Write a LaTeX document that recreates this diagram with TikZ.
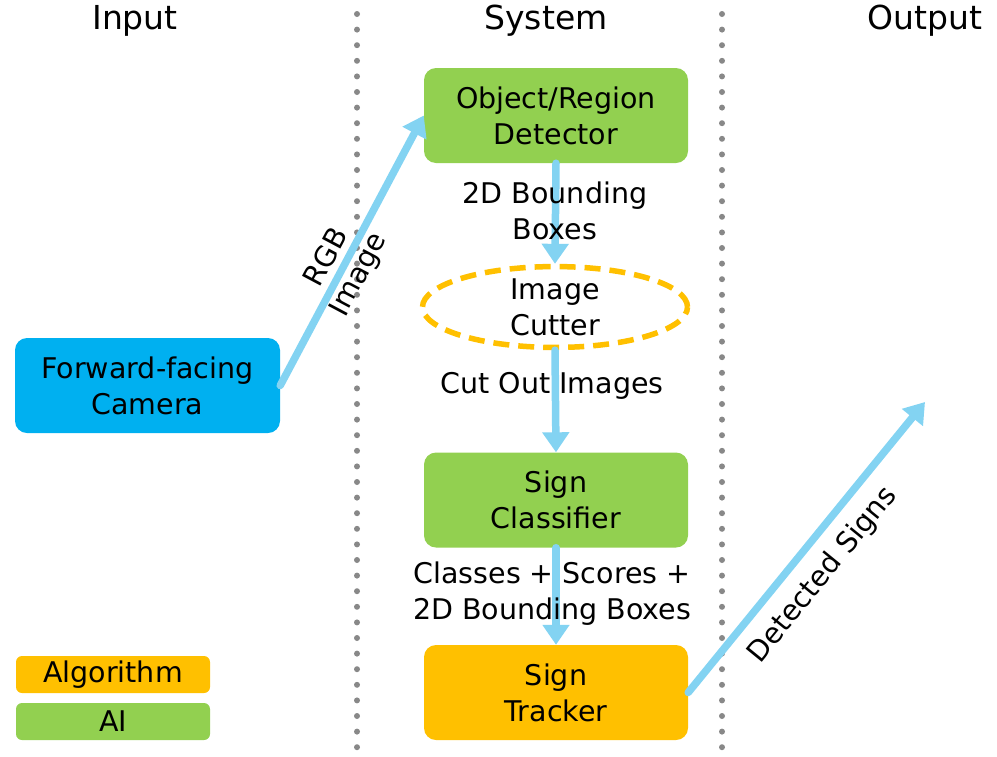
\documentclass[tikz,border=0pt]{standalone}
\usepackage{fontspec}
\setmainfont{DejaVu Sans}
\usetikzlibrary{arrows.meta,shapes.geometric}
\definecolor{aigreen}{HTML}{92D050}
\definecolor{algorange}{HTML}{FFC000}
\definecolor{cambblue}{HTML}{00B0F0}
\definecolor{flowblue}{RGB}{131,211,242}
\definecolor{dotgray}{RGB}{136,136,136}
\begin{document}
\begin{tikzpicture}[x=1pt,y=-1pt,
  font=\fontsize{28.5}{36}\selectfont,
  box/.style={rounded corners=12pt, inner sep=0pt, minimum width=264pt, minimum height=95pt, align=center},
  legendbox/.style={rounded corners=6pt, inner sep=0pt, minimum width=194pt, minimum height=37pt},
  flow/.style={draw=flowblue, line width=7.5pt, line cap=round, -{Triangle[length=20pt,width=26pt]}},
  sep/.style={draw=dotgray, line width=6pt, line cap=round, dash pattern=on 0pt off 15.6pt},
  title/.style={font=\fontsize{33}{38}\selectfont},
  lbl/.style={align=center, inner sep=1pt}]
\useasboundingbox (0,0) rectangle (997,756);
% separators
\coordinate (s1t) at (357,14); \coordinate (s1b) at (357,760);
\coordinate (s2t) at (722,14); \coordinate (s2b) at (722,760);
\draw[sep] (s1t) -- (s1b);
\draw[sep] (s2t) -- (s2b);
% titles
\node[title] (tin) at (135,21) {Input};
\node[title] (tsys) at (546,21) {System};
\node[title] (tout) at (925,21) {Output};
% nodes
\node[box, fill=aigreen] (det) at (556,115.5) {Object/Region\\Detector};
\node[ellipse, draw=algorange, line width=5.5pt, dash pattern=on 16pt off 9pt,
      minimum width=265pt, minimum height=70pt, inner sep=0pt, align=center] (cut) at (555,307) {Image\\Cutter};
\node[box, fill=aigreen] (cls) at (556,500) {Sign\\Classifier};
\node[box, fill=algorange] (trk) at (556,692.5) {Sign\\Tracker};
\node[box, fill=cambblue, minimum width=265pt] (cam) at (147.5,385.5) {Forward-facing\\Camera};
\coordinate (out) at (925,402);
% legend
\node[legendbox, fill=algorange] (lalg) at (113,674.5) {Algorithm};
\node[legendbox, fill=aigreen] (lai) at (113,721.5) {AI};
% connectors
\draw[flow] (det.south) -- (cut.north);
\draw[flow] (cut.south) -- (cls.north);
\draw[flow] (cls.south) -- (trk.north);
\draw[flow] (cam.east) -- node[pos=0.44, sloped, align=center, inner sep=0pt] (lrgb) {RGB\\Image} (det.west);
\draw[flow] (trk.east) -- node[pos=0.47, sloped, below, inner sep=13pt] (ldet) {Detected Signs} (out);
% labels
\node[lbl] (l1) at (555,211) {2D Bounding\\Boxes};
\node[lbl] (l2) at (552,386) {Cut Out Images};
\node[lbl] (l3) at (552,594) {Classes + Scores +\\2D Bounding Boxes};
\end{tikzpicture}
\end{document}
